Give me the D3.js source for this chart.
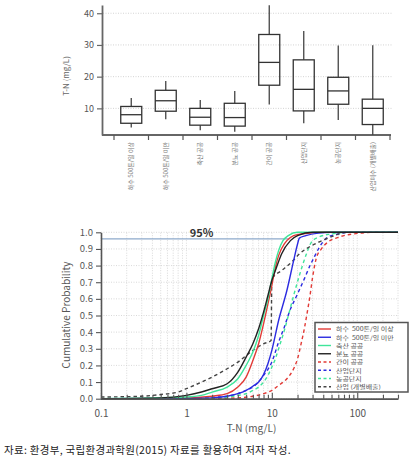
<!DOCTYPE html>
<html><head><meta charset="utf-8">
<script src="https://cdn.jsdelivr.net/npm/d3@7"></script>
<style>
html,body{margin:0;padding:0;background:#fff;}
svg{display:block;}
text{font-family:"Noto Sans CJK KR","Noto Sans",sans-serif;}
</style></head>
<body><svg id="c" width="418" height="464"></svg>
<script>
// ---------- Box plot data (T-N mg/L) ----------
const boxCategories = ["하수 500톤/일 이상","하수 500톤/일 미만","축산 공공","분뇨 공공","간이 공공","산업단지","농공단지","산업폐수 (개별배출)"];
const boxMin    = [4.0, 6.6, 3.1, 2.6, 11.2, 5.3, 6.3, 1.6];
const boxQ1     = [5.3, 9.1, 4.7, 4.4, 17.3, 9.2, 11.3, 4.9];
const boxMedian = [8.0, 12.4, 7.2, 7.1, 24.5, 16.0, 15.5, 10.0];
const boxQ3     = [10.6, 15.7, 10.0, 11.6, 33.3, 25.3, 19.8, 12.9];
const boxMax    = [13.3, 18.6, 12.6, 15.5, 42.5, 34.4, 29.8, 29.9];
const boxYTicks = [10, 20, 30, 40];

// ---------- Cumulative probability data ----------
const cdfNames = ["하수  500톤/일 이상","하수  500톤/일 미만","축산 공공","분뇨 공공","간이 공공","산업단지","농공단지","산업 (개별배출)"];
const cdfColors = ["#e23a36","#2b2be0","#3fe59a","#222222","#e23a36","#2b2be0","#3fe59a","#444444"];
const cdfDashed = [false,false,false,false,true,true,true,true];
const cdfSewageLarge = [[0.1,0],[1,0.005],[2,0.015],[3,0.03],[4,0.07],[5,0.13],[6,0.23],[7,0.33],[8,0.45],[9,0.57],[10,0.68],[11,0.79],[12,0.86],[14,0.93],[15,0.95],[18,0.98],[22,0.99],[40,1.0],[300,1.0]];
const cdfSewageSmall = [[0.1,0],[1,0.002],[2,0.005],[3,0.015],[4,0.03],[5,0.05],[6,0.075],[7,0.1],[8,0.145],[9,0.21],[10,0.29],[12,0.47],[15,0.65],[18,0.83],[20,0.93],[21,0.965],[25,0.98],[35,0.995],[50,1.0],[300,1.0]];
const cdfLivestock = [[0.1,0],[1,0.01],[1.5,0.02],[2,0.04],[3,0.07],[4,0.12],[5,0.2],[6,0.28],[7,0.38],[8,0.5],[9,0.6],[10,0.72],[11,0.82],[12,0.89],[13.5,0.95],[15.6,0.98],[20,1.0],[300,1.0]];
const cdfNightSoil = [[0.1,0],[0.5,0.005],[1,0.02],[1.5,0.04],[2,0.06],[3,0.09],[4,0.16],[5,0.25],[6,0.33],[7,0.42],[8,0.52],[9,0.62],[10,0.71],[11,0.77],[13,0.87],[16.5,0.95],[20,0.98],[30,1.0],[300,1.0]];
const cdfSimple = [[0.1,0],[2,0.002],[4,0.005],[6,0.015],[8,0.03],[10,0.05],[12,0.08],[15,0.12],[18,0.18],[20,0.24],[22,0.33],[24,0.42],[26,0.52],[28,0.62],[30,0.73],[33,0.84],[38,0.9],[45,0.94],[60,0.97],[90,0.99],[170,1.0],[300,1.0]];
const cdfIndComplex = [[0.1,0],[1,0.003],[2,0.008],[3,0.015],[4,0.03],[5,0.05],[6,0.07],[8,0.14],[10,0.22],[12,0.34],[14,0.43],[16,0.52],[20,0.63],[24,0.72],[28,0.8],[32,0.86],[36,0.91],[45,0.97],[60,0.99],[80,1.0],[300,1.0]];
const cdfAgriComplex = [[0.1,0],[1,0.002],[2,0.005],[3,0.01],[4,0.02],[5,0.03],[6,0.05],[7,0.07],[8,0.1],[9,0.14],[10,0.19],[11,0.24],[12,0.3],[14,0.41],[16,0.52],[18,0.62],[21,0.74],[25,0.86],[29,0.94],[35,0.97],[50,0.99],[80,1.0],[300,1.0]];
const cdfIndividual = [[0.1,0.01],[0.3,0.015],[0.5,0.025],[0.8,0.04],[1,0.06],[1.5,0.1],[2,0.13],[3,0.18],[4,0.22],[6,0.29],[8,0.33],[9.8,0.35],[10,0.72],[13,0.77],[17,0.82],[21,0.87],[27,0.91],[35,0.94],[48,0.97],[75,1.0],[300,1.0]];
const cdfSeries = [cdfSewageLarge,cdfSewageSmall,cdfLivestock,cdfNightSoil,cdfSimple,cdfIndComplex,cdfAgriComplex,cdfIndividual];
const cdfXTicks = [0.1, 1, 10, 100];
const cdfYTicks = [0,0.1,0.2,0.3,0.4,0.5,0.6,0.7,0.8,0.9,1.0];
const refLevel = 0.96;
const refLabel = "95%";
const caption = "자료: 환경부, 국립환경과학원(2015) 자료를 활용하여 저자 작성.";

const svg = d3.select("#c");

// ================= TOP: box plot =================
const bx = d3.scaleBand().domain(boxCategories).range([114, 390]).paddingInner(0).paddingOuter(0);
const by = d3.scaleLinear().domain([1.6, 42.6]).range([135, 5]);
const gTop = svg.append("g");
gTop.selectAll(".hg").data(boxYTicks).enter().append("line")
  .attr("x1",103).attr("x2",392).attr("y1",d=>by(d)).attr("y2",d=>by(d))
  .attr("stroke","#c8c8c8").attr("stroke-width",0.8).attr("stroke-dasharray","1,1.5");
const yAxTop = gTop.append("g").attr("transform","translate(102,0)")
  .call(d3.axisLeft(by).tickValues(boxYTicks).tickSize(5).tickSizeOuter(0).tickPadding(3));
yAxTop.select(".domain").attr("stroke","#666").attr("stroke-width",1.8);
yAxTop.selectAll(".tick line").attr("stroke","#666").attr("stroke-width",1.2);
yAxTop.selectAll(".tick text").attr("fill","#555").attr("font-size",9).attr("font-family","Arial, Liberation Sans, sans-serif");
gTop.append("text").attr("transform","translate(69,76) rotate(-90)").attr("text-anchor","middle")
  .attr("font-size",8).attr("fill","#666").attr("font-family","Arial, Liberation Sans, sans-serif").text("T-N (mg/L)");
gTop.append("line").attr("x1",102).attr("x2",391).attr("y1",135).attr("y2",135).attr("stroke","#666").attr("stroke-width",1.8);
const tickPos = boxCategories.map(c=>bx(c)).concat([bx.range()[1]]);
gTop.selectAll(".xt").data(tickPos).enter().append("line")
  .attr("x1",d=>d).attr("x2",d=>d).attr("y1",135).attr("y2",140).attr("stroke","#555").attr("stroke-width",1.2);
gTop.selectAll(".xl").data(boxCategories).enter().append("text")
  .attr("transform",d=>`translate(${bx(d)+bx.bandwidth()/2+2},142) rotate(-90)`)
  .attr("text-anchor","end").attr("font-size",6).attr("fill","#777").text(d=>d);
const bw = 21;
const boxes = gTop.selectAll(".box").data(boxCategories).enter().append("g")
  .attr("transform",(d)=>`translate(${bx(d)+bx.bandwidth()/2},0)`);
boxes.append("line").attr("x1",0).attr("x2",0).attr("y1",(d,i)=>by(boxMax[i])).attr("y2",(d,i)=>by(boxQ3[i])).attr("stroke","#444").attr("stroke-width",1.3);
boxes.append("line").attr("x1",0).attr("x2",0).attr("y1",(d,i)=>by(boxQ1[i])).attr("y2",(d,i)=>by(boxMin[i])).attr("stroke","#444").attr("stroke-width",1.3);
boxes.append("rect").attr("x",-bw/2).attr("width",bw).attr("y",(d,i)=>by(boxQ3[i])).attr("height",(d,i)=>by(boxQ1[i])-by(boxQ3[i]))
  .attr("fill","none").attr("stroke","#333").attr("stroke-width",1.3);
boxes.append("line").attr("x1",-bw/2).attr("x2",bw/2).attr("y1",(d,i)=>by(boxMedian[i])).attr("y2",(d,i)=>by(boxMedian[i])).attr("stroke","#333").attr("stroke-width",1.3);

// ================= BOTTOM: CDF =================
const cx = d3.scaleLog().domain([0.1, 300]).range([101, 398]);
const cy = d3.scaleLinear().domain([0, 1]).range([398.7, 232.3]);
const bot = svg.append("g");
const minorTicks = cx.ticks();
bot.selectAll(".vg").data(minorTicks).enter().append("line")
  .attr("x1",d=>cx(d)).attr("x2",d=>cx(d)).attr("y1",cy(0)).attr("y2",cy(1))
  .attr("stroke","#cfcfcf").attr("stroke-width",0.8).attr("stroke-dasharray","1,1.5");
bot.selectAll(".hg").data(cdfYTicks).enter().append("line")
  .attr("x1",cx(0.1)).attr("x2",cx(300)).attr("y1",d=>cy(d)).attr("y2",d=>cy(d))
  .attr("stroke","#cfcfcf").attr("stroke-width",0.8).attr("stroke-dasharray","1,1.5");
bot.append("line").attr("x1",cx(0.1)).attr("x2",cx(16)).attr("y1",cy(refLevel)).attr("y2",cy(refLevel))
  .attr("stroke","#8eaacb").attr("stroke-width",1.2);
bot.append("text").attr("x",cx(1.5)).attr("y",cy(refLevel)-1.5).attr("text-anchor","middle")
  .attr("font-size",11).attr("font-weight","bold").attr("fill","#333").attr("font-family","Arial, Liberation Sans, sans-serif").text(refLabel);
const line = d3.line().x(d=>cx(d[0])).y(d=>cy(d[1])).curve(d3.curveMonotoneX);
const order = [4,5,6,7,0,1,2,3];
order.forEach(i=>{
  bot.append("path").attr("d",line(cdfSeries[i])).attr("fill","none")
    .attr("stroke",cdfColors[i]).attr("stroke-width",1.4)
    .attr("stroke-dasharray",cdfDashed[i]?"3.5,3":null);
});
const xAx = bot.append("g").attr("transform",`translate(0,${cy(0)})`)
  .call(d3.axisBottom(cx).tickValues(minorTicks).tickSize(-4).tickSizeOuter(0).tickFormat(d=>cdfXTicks.includes(d)?String(d):""));
xAx.select(".domain").attr("stroke","#555").attr("stroke-width",1.8);
xAx.selectAll(".tick line").attr("stroke","#555").attr("stroke-width",1.1).attr("y2",d=>cdfXTicks.includes(d)?-6:-4);
xAx.selectAll(".tick text").attr("fill","#555").attr("font-size",10).attr("y",11).attr("font-family","Arial, Liberation Sans, sans-serif");
const yAx = bot.append("g").attr("transform",`translate(${cx(0.1)},0)`)
  .call(d3.axisLeft(cy).tickValues(cdfYTicks).tickSize(5).tickSizeOuter(0).tickPadding(3).tickFormat(d3.format(".1f")));
yAx.select(".domain").attr("stroke","#555").attr("stroke-width",1.6);
yAx.selectAll(".tick line").attr("stroke","#555").attr("stroke-width",1.1);
yAx.selectAll(".tick text").attr("fill","#555").attr("font-size",9.5).attr("font-family","Arial, Liberation Sans, sans-serif");
bot.append("text").attr("x",(cx(0.1)+cx(300))/2+2).attr("y",432).attr("text-anchor","middle")
  .attr("font-size",10).attr("fill","#555").attr("font-family","Arial, Liberation Sans, sans-serif").text("T-N (mg/L)");
bot.append("text").attr("transform","translate(70,315) rotate(-90)").attr("text-anchor","middle")
  .attr("font-size",10).attr("fill","#555").attr("font-family","Arial, Liberation Sans, sans-serif").text("Cumulative Probability");
const lg = bot.append("g");
lg.append("rect").attr("x",315).attr("y",322.5).attr("width",93).attr("height",69.5).attr("fill","#fff").attr("stroke","#555").attr("stroke-width",1.5);
cdfNames.forEach((n,i)=>{
  const yy = 329 + i*8.25;
  lg.append("line").attr("x1",318).attr("x2",331).attr("y1",yy).attr("y2",yy)
    .attr("stroke",cdfColors[i]).attr("stroke-width",1.4).attr("stroke-dasharray",cdfDashed[i]?"3,2.5":null);
  lg.append("text").attr("transform",`translate(336,${yy+2.3}) scale(1,0.8)`).attr("font-size",7).attr("fill","#555")
    .attr("xml:space","preserve").style("white-space","pre").text(n);
});
svg.append("text").attr("x",4).attr("y",454).attr("font-size",10.5).attr("letter-spacing",0.3).attr("fill","#222").text(caption);
</script></body></html>
